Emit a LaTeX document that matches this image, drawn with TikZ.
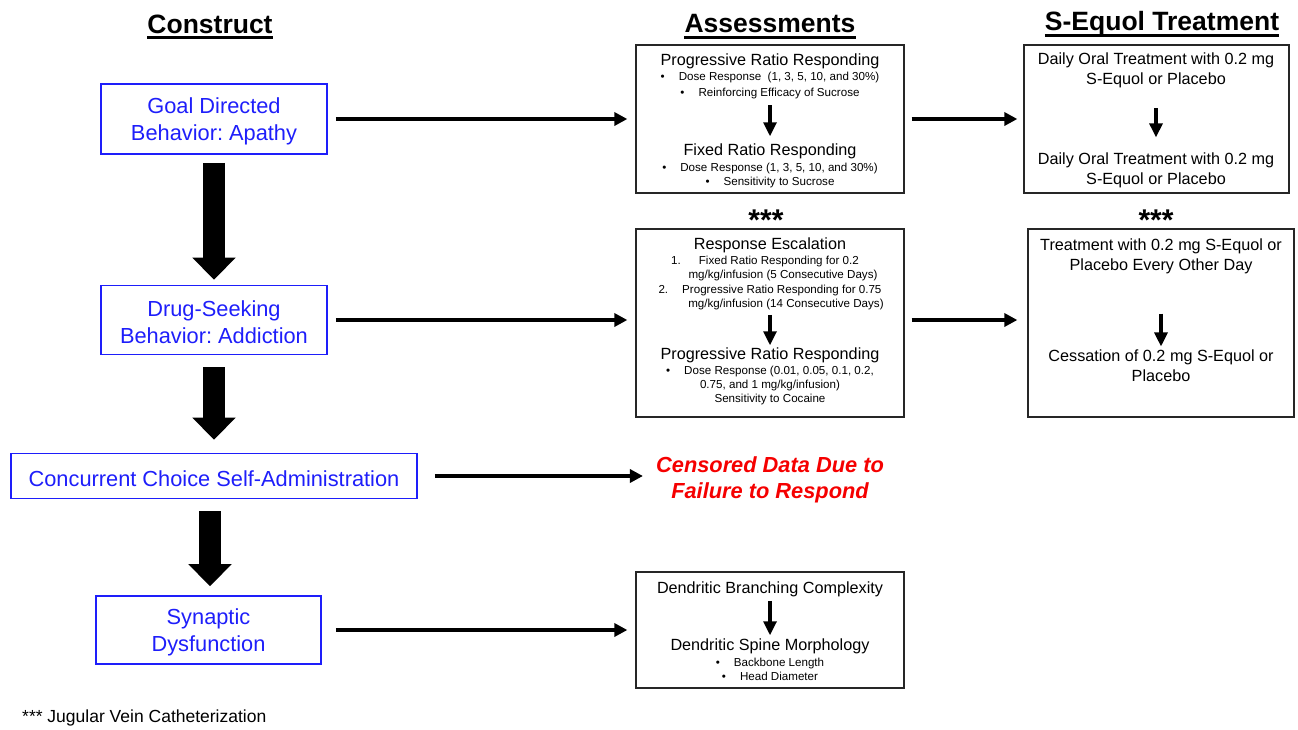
\documentclass[tikz,border=0pt]{standalone}
\usepackage{fontspec}
\setmainfont{Liberation Sans}
\usetikzlibrary{arrows.meta}
\definecolor{cblue}{RGB}{30,30,250}
\definecolor{cred}{RGB}{245,0,0}
\newcommand{\fs}[2]{\fontsize{#1}{#2}\selectfont}
\frenchspacing
\tikzset{
  bluebox/.style={draw=cblue, line width=1.6pt, inner sep=0pt},
  bluetext/.style={text=cblue, align=center, font=\fs{21.8}{27}, inner sep=0pt, yshift=-2.5pt},
  blackbox/.style={draw=black!85, line width=1.3pt, inner sep=0pt},
  ttl/.style={inner sep=0pt, align=center, font=\fs{16.2}{19.8}},
  sml/.style={inner sep=0pt, align=center, font=\fs{11.6}{14.2}},
  hdr/.style={inner sep=0pt, font=\bfseries\fs{26.5}{30}},
  stars/.style={inner sep=0pt, font=\bfseries\fs{30}{34}},
  harrow/.style={line width=3.4pt, -{Triangle[width=13pt,length=13pt]}},
  sarrow/.style={line width=3.2pt, -{Triangle[width=13pt,length=14pt]}},
  bigarrow/.style={line width=22pt, -{Triangle[width=42pt,length=22pt]}},
}
\begin{document}
\begin{tikzpicture}[x=1pt,y=-1pt]
\useasboundingbox (0,0) rectangle (1298,729);
% headers
\node[hdr] (hc) at (210,24) {Construct};
\node[hdr] (ha) at (770,24) {Assessments};
\node[hdr] (ht) at (1162,24) {S-Equol Treatment};
\foreach \h in {hc,ha,ht}{
  \draw[line width=2.6pt] ([yshift=-4.5pt]\h.base west) -- ([yshift=-4.5pt]\h.base east);
}
% left column
\node[bluebox, minimum width=226pt, minimum height=70pt,
  label={[bluetext]center:Goal Directed\\Behavior: Apathy}] (goal) at (214,119) {};
\node[bluebox, minimum width=226pt, minimum height=69pt,
  label={[bluetext]center:Drug-Seeking\\Behavior: Addiction}] (drug) at (214,320) {};
\node[bluebox, minimum width=406pt, minimum height=45pt,
  label={[bluetext]center:Concurrent Choice Self-Administration}] (conc) at (214,476) {};
\node[bluebox, minimum width=225pt, minimum height=68pt,
  label={[bluetext]center:Synaptic\\Dysfunction}] (syn) at (208.5,630) {};
% assessment boxes
\node[blackbox, minimum width=268pt, minimum height=148pt] (a1) at (770,119) {};
\node[blackbox, minimum width=268pt, minimum height=188pt] (a2) at (770,323) {};
\node[blackbox, minimum width=268pt, minimum height=116pt] (a3) at (770,630) {};
\node[blackbox, minimum width=265pt, minimum height=148pt] (t1) at (1156.5,119) {};
\node[blackbox, minimum width=266pt, minimum height=188pt] (t2) at (1161,323) {};
% A1 contents
\node[ttl] (a1t1) at (770,61) {Progressive Ratio Responding};
\node[sml, font=\fs{11.6}{16}] (a1b1) at (770,85.5) {\textbullet\hspace{14pt}Dose Response\ \ (1, 3, 5, 10, and 30\%)\\\textbullet\hspace{14pt}Reinforcing Efficacy of Sucrose};
\node[ttl] (a1t2) at (770,151) {Fixed Ratio Responding};
\node[sml] (a1b2) at (770,175.5) {\textbullet\hspace{14pt}Dose Response (1, 3, 5, 10, and 30\%)\\\textbullet\hspace{14pt}Sensitivity to Sucrose};
\draw[sarrow, shorten <=6pt, shorten >=7pt] (a1b1.south) -- (a1t2.north);
% A2 contents
\node[ttl] (a2t1) at (770,245) {Response Escalation};
\node[sml] (a2l) at (770,283) {1.\hspace{18pt}Fixed Ratio Responding for 0.2\hspace*{10pt}\\\hspace*{26pt}mg/kg/infusion (5 Consecutive Days)\\2.\hspace{14pt}Progressive Ratio Responding for 0.75\hspace*{8pt}\\\hspace*{32pt}mg/kg/infusion (14 Consecutive Days)};
\node[ttl] (a2t2) at (770,355) {Progressive Ratio Responding};
\node[sml] (a2b) at (770,385.5) {\textbullet\hspace{14pt}Dose Response (0.01, 0.05, 0.1, 0.2,\\0.75, and 1 mg/kg/infusion)\\Sensitivity to Cocaine};
\draw[sarrow, shorten <=5pt, shorten >=2pt] (a2l.south) -- (a2t2.north);
% A3 contents
\node[ttl] (a3t1) at (770,589) {Dendritic Branching Complexity};
\node[ttl] (a3t2) at (770,646) {Dendritic Spine Morphology};
\node[sml] (a3b) at (770,669.5) {\textbullet\hspace{14pt}Backbone Length\\\textbullet\hspace{14pt}Head Diameter};
\draw[sarrow, shorten <=4pt, shorten >=3pt] (a3t1.south) -- (a3t2.north);
% T1 contents
\node[ttl] (t1a) at (1156,70.5) {Daily Oral Treatment with 0.2 mg\\S-Equol or Placebo};
\node[ttl] (t1b) at (1156,170) {Daily Oral Treatment with 0.2 mg\\S-Equol or Placebo};
\draw[sarrow, shorten <=20pt, shorten >=15pt] (t1a.south) -- (t1b.north);
% T2 contents
\node[ttl] (t2a) at (1161,256) {Treatment with 0.2 mg S-Equol or\\Placebo Every Other Day};
\node[ttl] (t2b) at (1161,365.5) {Cessation of 0.2 mg S-Equol or\\Placebo};
\draw[sarrow, shorten <=40pt, shorten >=3pt] (t2a.south) -- (t2b.north);
% stars
\node[stars] (s1) at (766,220) {***};
\node[stars] (s2) at (1156,220) {***};
% censored
\node[inner sep=0pt, align=center, text=cred, font=\bfseries\itshape\fs{21.8}{26}] (cens) at (770,479.5) {Censored Data Due to\\Failure to Respond};
% footnote
\node[inner sep=0pt, anchor=west, font=\fs{17.5}{20}] (fn) at (22,718) {*** Jugular Vein Catheterization};
% horizontal arrows
\draw[harrow, shorten <=8pt, shorten >=8pt] (goal.east) -- (goal.east -| a1.west);
\draw[harrow, shorten <=7pt, shorten >=6pt] (a1.east) -- (t1.west);
\draw[harrow, shorten <=8pt, shorten >=8pt] (drug.east) -- (drug.east -| a2.west);
\draw[harrow, shorten <=7pt, shorten >=10pt] (drug.east -| a2.east) -- (drug.east -| t2.west);
\draw[harrow, shorten <=17pt, shorten >=13pt] (conc.east) -- (conc.east -| cens.west);
\draw[harrow, shorten <=14pt, shorten >=8pt] (syn.east) -- (syn.east -| a3.west);
% big arrows
\draw[bigarrow, shorten <=8pt, shorten >=5pt] (goal.south) -- (drug.north);
\draw[bigarrow, shorten <=12pt, shorten >=13pt] (drug.south) -- (conc.north);
\draw[bigarrow, shorten <=12pt, shorten >=9pt] ([xshift=1.5pt]conc.south -| syn.north) -- ([xshift=1.5pt]syn.north);
\end{tikzpicture}
\end{document}
